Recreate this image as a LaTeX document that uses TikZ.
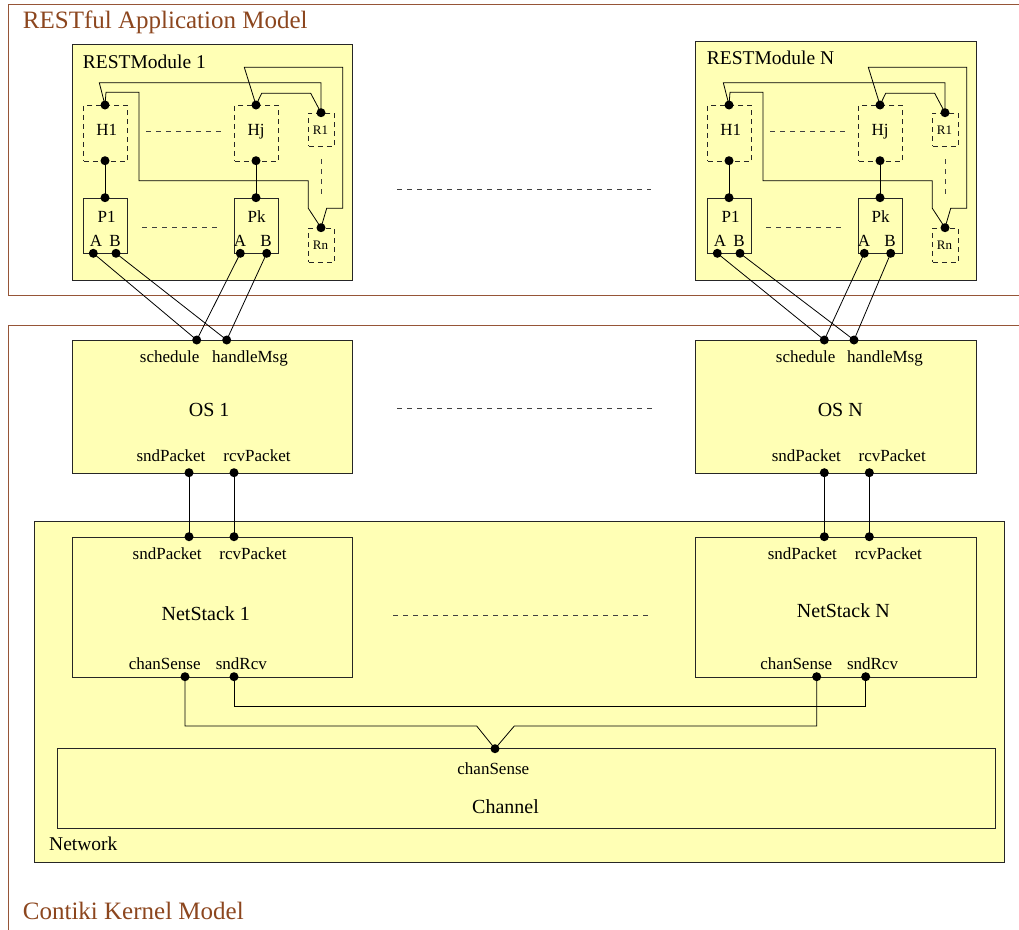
\documentclass[tikz,border=0pt]{standalone}
\usepackage{fontspec}
\setmainfont{Liberation Serif}
\definecolor{boxfill}{RGB}{255,255,181}
\definecolor{frbrown}{RGB}{140,70,30}
\definecolor{frline}{RGB}{150,85,55}
\tikzset{
  box/.style={draw=black!85, fill=boxfill, line width=0.9pt, inner sep=0pt, anchor=north west},
  dbox/.style={draw=black!85, dash pattern=on 5pt off 4pt, line width=0.9pt, inner sep=0pt, anchor=north west},
  pt/.style={circle, fill=black, inner sep=0pt, minimum size=9pt},
  wire/.style={line width=0.8pt, black},
  gapline/.style={dash pattern=on 5pt off 5pt, line width=0.9pt, black!75},
  lbl/.style={inner sep=0pt, anchor=base, font=\fontsize{20}{24}\selectfont},
  lblw/.style={inner sep=0pt, anchor=base west, font=\fontsize{19.5}{24}\selectfont},
  plbl/.style={inner sep=0pt, anchor=base, font=\fontsize{17}{20}\selectfont},
  slbl/.style={inner sep=0pt, anchor=base, font=\fontsize{13}{15}\selectfont},
  ttl/.style={inner sep=0pt, anchor=base west, text=frbrown, font=\fontsize{25}{30}\selectfont},
  frame/.style={draw=frline, line width=1pt},
}
\begin{document}
\begin{tikzpicture}[x=1pt, y=-1pt]
\useasboundingbox (0,0) rectangle (1019,929);

% outer frames
\draw[frame] (1030,4) -- (8,4) -- (8,295) -- (1030,295);
\draw[frame] (1030,325) -- (8,325) -- (8,940);
\node[ttl] (t1) at (22.7,28.3) {RESTful Application Model};
\node[ttl] (t2) at (22.7,919) {Contiki Kernel Model};

% REST modules
\node[box, minimum width=280pt, minimum height=236pt] (mod1) at (72,44) {};
\node[box, minimum width=281pt, minimum height=239pt] (modN) at (695,41) {};
\node[lblw] (mod1l) at (82.7,68.3) {RESTModule 1};
\node[lblw] (modNl) at (706.7,64.3) {RESTModule N};

\foreach \s/\dx in {1/0, N/624}{
  % handler / resource boxes
  \node[dbox, minimum width=44pt, minimum height=55.7pt] (H1\s) at (83.3+\dx,105) {};
  \node[dbox, minimum width=44pt, minimum height=55.7pt] (Hj\s) at (234.3+\dx,105) {};
  \node[dbox, minimum width=25.7pt, minimum height=33.3pt] (R1\s) at (308.3+\dx,112.7) {};
  \node[dbox, minimum width=25.7pt, minimum height=34pt] (Rn\s) at (308.3+\dx,227.7) {};
  \node[box, minimum width=44pt, minimum height=55.6pt] (P1\s) at (83.3+\dx,197.7) {};
  \node[box, minimum width=44pt, minimum height=55.6pt] (Pk\s) at (234.3+\dx,197.7) {};
  % labels
  \node[plbl] (H1l\s) at (106.7+\dx,135) {H1};
  \node[plbl] (Hjl\s) at (256+\dx,135) {Hj};
  \node[slbl] (R1l\s) at (320.5+\dx,134.3) {R1};
  \node[slbl] (Rnl\s) at (320.5+\dx,249.3) {Rn};
  \node[plbl] (P1l\s) at (106.7+\dx,222.7) {P1};
  \node[plbl] (Pkl\s) at (256.7+\dx,222.7) {Pk};
  \node[plbl] (P1Al\s) at (96+\dx,246) {A};
  \node[plbl] (P1Bl\s) at (115+\dx,246) {B};
  \node[plbl] (PkAl\s) at (240+\dx,246) {A};
  \node[plbl] (PkBl\s) at (266+\dx,246) {B};
  % ports
  \node[pt] (h1t\s) at (105+\dx,105) {};
  \node[pt] (h1b\s) at (105+\dx,160.7) {};
  \node[pt] (hjt\s) at (256+\dx,105) {};
  \node[pt] (hjb\s) at (256+\dx,160.7) {};
  \node[pt] (r1t\s) at (321+\dx,112.7) {};
  \node[pt] (rnt\s) at (321+\dx,227.7) {};
  \node[pt] (p1t\s) at (105+\dx,197.7) {};
  \node[pt] (pkt\s) at (256+\dx,197.7) {};
  \node[pt] (p1a\s) at (93.3+\dx,253.3) {};
  \node[pt] (p1b\s) at (116+\dx,253.3) {};
  \node[pt] (pka\s) at (240.3+\dx,253.3) {};
  \node[pt] (pkb\s) at (266.7+\dx,253.3) {};
  % wires
  \draw[wire] (h1b\s.center) -- (p1t\s.center);
  \draw[wire] (hjb\s.center) -- (pkt\s.center);
  \draw[wire] (h1t\s.center) -- (106+\dx,92.3) -- (139+\dx,92.3) -- (139+\dx,180.7)
     -- (308.3+\dx,180.7) -- (308.3+\dx,208.3) -- (rnt\s.center);
  \draw[wire] (h1t\s.center) -- (99.3+\dx,82.7) -- (321+\dx,82.7) -- (r1t\s.center);
  \draw[wire] (hjt\s.center) -- (244.3+\dx,67.3) -- (342.7+\dx,67.3) -- (342.7+\dx,208.3)
     -- (326.7+\dx,208.3) -- (rnt\s.center);
  \draw[wire] (hjt\s.center) -- (261.7+\dx,93.3) -- (310.7+\dx,93.3) -- (r1t\s.center);
  % ellipsis dashes
  \draw[gapline] (146+\dx,131) -- (221.7+\dx,131);
  \draw[gapline] (142+\dx,227.7) -- (217+\dx,227.7);
  \draw[gapline] (321.7+\dx,159) -- (321.7+\dx,195);
}

% OS boxes
\node[box, minimum width=280pt, minimum height=132.7pt] (os1) at (72,340) {};
\node[box, minimum width=281pt, minimum height=132.7pt] (osN) at (695,340) {};
\node[plbl] (os1s) at (169.7,362.7) {schedule};
\node[plbl] (os1h) at (250,362.7) {handleMsg};
\node[lbl] (os1l) at (209.2,416) {OS 1};
\node[plbl] (os1sp) at (171,461.7) {sndPacket};
\node[plbl] (os1rp) at (257,461.7) {rcvPacket};
\node[plbl] (osNs) at (805.7,362.7) {schedule};
\node[plbl] (osNh) at (885,362.7) {handleMsg};
\node[lbl] (osNl) at (840.3,416) {OS N};
\node[plbl] (osNsp) at (806.3,461.7) {sndPacket};
\node[plbl] (osNrp) at (892.2,461.7) {rcvPacket};

% Network
\node[box, minimum width=970pt, minimum height=341pt] (net) at (34,521) {};
\node[lblw] (netl) at (49,850.7) {Network};
\node[box, minimum width=280pt, minimum height=140pt] (ns1) at (72,536.7) {};
\node[box, minimum width=281pt, minimum height=140pt] (nsN) at (695,536.7) {};
\node[box, minimum width=938pt, minimum height=80pt] (chan) at (57,748) {};
\node[plbl] (ns1sp) at (167.2,559.3) {sndPacket};
\node[plbl] (ns1rp) at (253,559.3) {rcvPacket};
\node[lbl] (ns1l) at (205.8,620) {NetStack 1};
\node[plbl] (ns1cs) at (164.7,669.3) {chanSense};
\node[plbl] (ns1sr) at (241.3,669.3) {sndRcv};
\node[plbl] (nsNsp) at (802.3,559.3) {sndPacket};
\node[plbl] (nsNrp) at (888.3,559.3) {rcvPacket};
\node[lbl] (nsNl) at (843.3,617.3) {NetStack N};
\node[plbl] (nsNcs) at (796.3,669.3) {chanSense};
\node[plbl] (nsNsr) at (872.5,669.3) {sndRcv};
\node[plbl] (chcs) at (493.3,774) {chanSense};
\node[lbl] (chl) at (505.5,813.3) {Channel};

% ports of OS / NetStack / Channel
\node[pt] (os1sch) at (196.7,340) {};
\node[pt] (os1hm) at (226.7,340) {};
\node[pt] (os1snd) at (189,472.7) {};
\node[pt] (os1rcv) at (234,472.7) {};
\node[pt] (osNsch) at (824.3,340) {};
\node[pt] (osNhm) at (854,340) {};
\node[pt] (osNsnd) at (824.3,472.7) {};
\node[pt] (osNrcv) at (869.3,472.7) {};
\node[pt] (ns1snd) at (189,536.7) {};
\node[pt] (ns1rcv) at (234,536.7) {};
\node[pt] (ns1csp) at (185,676.7) {};
\node[pt] (ns1srp) at (234,676.7) {};
\node[pt] (nsNsnd) at (824.3,536.7) {};
\node[pt] (nsNrcv) at (869.3,536.7) {};
\node[pt] (nsNcsp) at (816.7,676.7) {};
\node[pt] (nsNsrp) at (865.7,676.7) {};
\node[pt] (chcsp) at (495,748.7) {};

% module to OS
\foreach \s in {1,N}{
  \draw[wire] (p1a\s.center) -- (os\s sch.center);
  \draw[wire] (pka\s.center) -- (os\s sch.center);
  \draw[wire] (p1b\s.center) -- (os\s hm.center);
  \draw[wire] (pkb\s.center) -- (os\s hm.center);
}
% OS to NetStack
\draw[wire] (os1snd.center) -- (ns1snd.center);
\draw[wire] (os1rcv.center) -- (ns1rcv.center);
\draw[wire] (osNsnd.center) -- (nsNsnd.center);
\draw[wire] (osNrcv.center) -- (nsNrcv.center);
% NetStack to channel
\draw[wire] (ns1csp.center) -- (185,726) -- (476.7,726) -- (chcsp.center);
\draw[wire] (nsNcsp.center) -- (816.7,726) -- (514.3,726) -- (chcsp.center);
\draw[wire] (ns1srp.center) -- (234,706.7) -- (865.7,706.7) -- (nsNsrp.center);

% ellipsis dashes between columns
\draw[gapline] (397,189) -- (651,189);
\draw[gapline] (397,408) -- (655,408);
\draw[gapline] (393,615) -- (651,615);
\end{tikzpicture}
\end{document}
